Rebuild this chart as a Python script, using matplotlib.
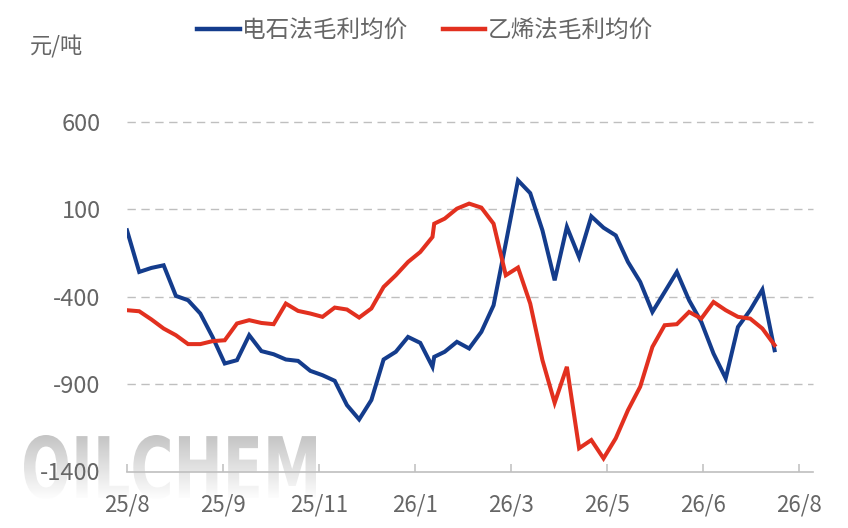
import matplotlib
matplotlib.use("Agg")
import matplotlib.pyplot as plt
import numpy as np
import pandas as pd
from matplotlib.textpath import TextPath
from matplotlib.patches import PathPatch
from matplotlib.font_manager import FontProperties
from matplotlib.path import Path
from matplotlib.colors import LinearSegmentedColormap

plt.rcParams['font.family'] = ['Noto Sans CJK SC', 'DejaVu Sans']
plt.rcParams['axes.unicode_minus'] = False

# ---- data ----
series_names = ['电石法毛利均价', '乙烯法毛利均价']
unit_label = '元/吨'
weekly_dates = list(pd.date_range('2025-08-01', periods=54, freq='7D'))
extra_date = pd.Timestamp('2026-01-24')
dates = weekly_dates[:26] + [extra_date] + weekly_dates[26:]

carbide = [-20, -258, -235, -220, -395, -420, -496, -630, -782, -763,
           -620, -711, -729, -759, -767, -824, -849, -881, -1020, -1102,
           -991, -759, -715, -630, -664, -801, -744, -715, -658, -696,
           -601, -449, -94, 266, 193, -20, -306, 0, -173, 60,
           -5, -49, -201, -315, -487, -373, -258, -420, -544, -725,
           -867, -573, -477, -359, -706]
ethylene = [-477, -483, -530, -582, -620, -671, -671, -654, -649, -553,
            -534, -550, -557, -439, -481, -496, -515, -462, -473, -519,
            -467, -344, -277, -201, -144, -58, 18, 47, 104, 133,
            110, 18, -277, -233, -439, -763, -1007, -801, -1267, -1220,
            -1325, -1210, -1049, -915, -687, -563, -557, -487, -525, -430,
            -477, -515, -525, -582, -677]

y_ticks = [-1400, -900, -400, 100, 600]
tick_start = pd.Timestamp('2025-08-01')
tick_step_days = 55
x_tick_labels = ['25/8', '25/9', '25/11', '26/1', '26/3', '26/5', '26/6', '26/8']
x_end = tick_start + pd.Timedelta(days=393)

watermark = 'OILCHEM'

# ---- style ----
BLUE = '#143C8C'
RED = '#E2301F'
TXT = '#666666'
GRID = '#BFBFBF'

W, H = 848, 528
fig = plt.figure(figsize=(W / 100, H / 100), dpi=100)

# watermark layer (pixel coordinates)
wax = fig.add_axes([0, 0, 1, 1], zorder=0)
wax.set_xlim(0, W)
wax.set_ylim(0, H)
wax.axis('off')
fp = FontProperties(family='Liberation Sans Narrow', weight='bold')
tp = TextPath((0, 0), watermark, size=88, prop=fp)
ext = tp.get_extents()
sx = 292 / ext.width
sy = 64 / ext.height
verts = tp.vertices.copy()
verts[:, 0] = (verts[:, 0] - ext.x0) * sx + 24
verts[:, 1] = (verts[:, 1] - ext.y0) * sy + (H - 499)
tpath = Path(verts, tp.codes)
patch = PathPatch(tpath, facecolor='none', edgecolor='none')
wax.add_patch(patch)
grad = np.linspace(0, 1, 256).reshape(-1, 1)
cmap = LinearSegmentedColormap.from_list('wm', ['#C4C4C4', '#E2E2E2', '#FFFFFF'])
im = wax.imshow(grad, extent=[20, 320, H - 500, H - 435], cmap=cmap,
                aspect='auto', origin='upper', zorder=0)
im.set_clip_path(patch)

# main axes
left_px, right_px, top_px, bot_px = 127, 813, 122, 471.5
ax = fig.add_axes([left_px / W, 1 - bot_px / H, (right_px - left_px) / W,
                   (bot_px - top_px) / H], zorder=1)
ax.patch.set_alpha(0)

for v in y_ticks[1:]:
    ax.axhline(v, color=GRID, lw=1.0, dashes=(6, 4), zorder=1, clip_on=False)

ax.plot(dates, carbide, color=BLUE, lw=2.9, solid_joinstyle='miter', zorder=3,
        label=series_names[0])
ax.plot(dates, ethylene, color=RED, lw=2.9, solid_joinstyle='miter', zorder=4,
        label=series_names[1])

ax.set_ylim(y_ticks[0], y_ticks[-1])
ax.set_yticks(y_ticks)
ax.set_yticklabels([str(v) for v in y_ticks])
ax.set_xlim(tick_start, x_end)
tick_dates = [tick_start + pd.Timedelta(days=tick_step_days * k) for k in range(len(x_tick_labels))]
ax.set_xticks(tick_dates)
ax.set_xticklabels(x_tick_labels)

for s in ['top', 'right', 'left']:
    ax.spines[s].set_visible(False)
ax.spines['bottom'].set_color(GRID)
ax.spines['bottom'].set_linewidth(1.2)
ax.tick_params(axis='x', direction='in', length=6, width=1.1, color=GRID,
               labelsize=16, labelcolor=TXT, pad=16)
ax.tick_params(axis='y', length=0, labelsize=17, labelcolor=TXT, pad=19)

fig.text(30 / W, 1 - 47 / H, unit_label, fontsize=16, color=TXT,
         ha='left', va='center')

leg = fig.legend(loc='center', bbox_to_anchor=(425 / W, 1 - 31 / H), ncol=2,
                 frameon=False, fontsize=17, handlelength=1.8,
                 handletextpad=0.1, columnspacing=1.5, borderpad=0,
                 borderaxespad=0)
for t in leg.get_texts():
    t.set_color(TXT)
for l in leg.get_lines():
    l.set_linewidth(3.2)

fig.savefig('out.png', dpi=100)
